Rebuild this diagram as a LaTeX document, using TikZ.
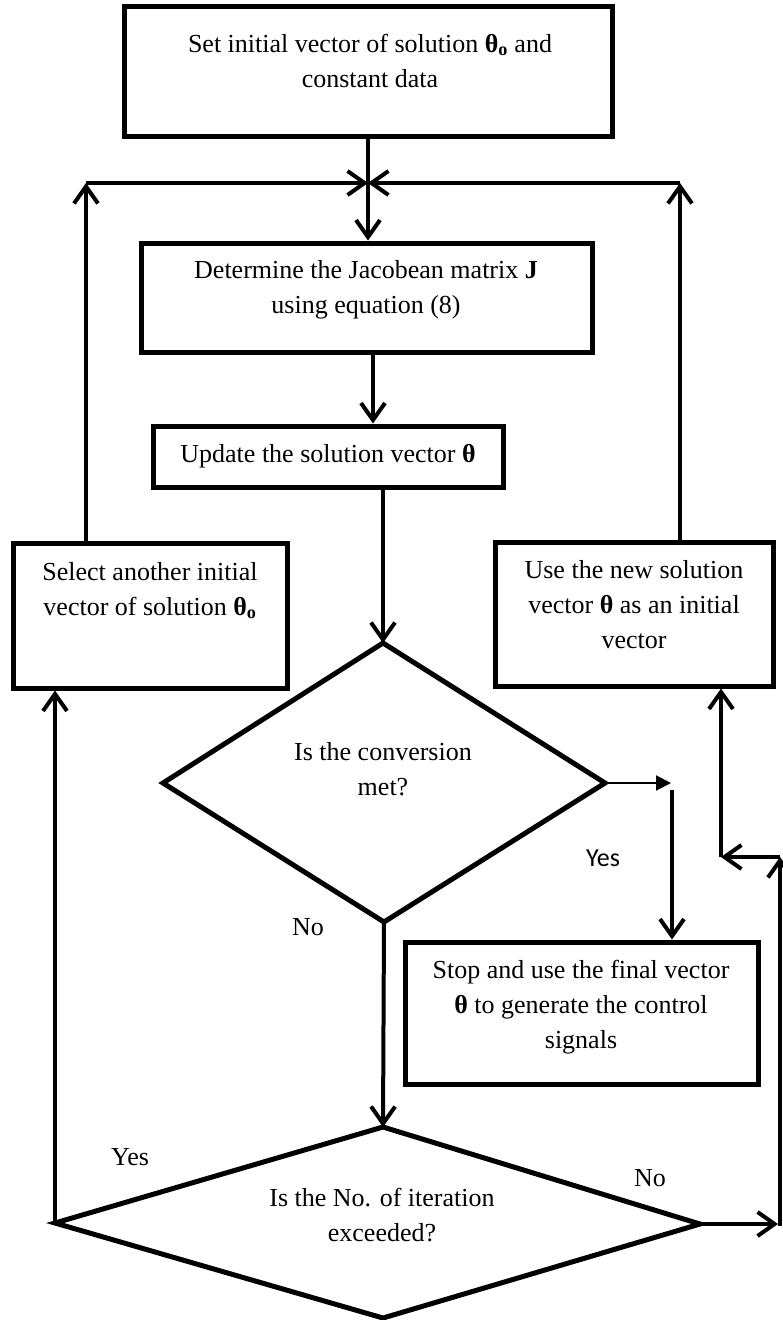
\documentclass[tikz,border=0pt]{standalone}
\usepackage{fontspec}
\setmainfont{Liberation Serif}
\newfontfamily\yesfont{Carlito}
\usetikzlibrary{arrows.meta}
\begin{document}
\begin{tikzpicture}[x=1pt,y=-1pt,
  box/.style={draw, line width=5pt, inner sep=0pt},
  txt/.style={align=center, inner sep=0pt, font=\fontsize{26}{35}\selectfont},
  conn/.style={line width=4pt, -{Straight Barb[length=17pt,width=24pt]}},
  thinarrow/.style={line width=2pt, -{Triangle[length=15pt,width=15pt]}},
  decision/.style={draw, line width=5pt, line join=miter}
]
\useasboundingbox (0,0) rectangle (783,1320);

% boxes
\node[box, minimum width=488pt, minimum height=130pt] (init) at (368,71) {};
\node[txt] (initT) at (370,60.5) {Set initial vector of solution \textbf{θ\textsubscript{o}} and\\constant data};

\node[box, minimum width=451pt, minimum height=109pt] (det) at (366.5,297.5) {};
\node[txt] (detT) at (366,289.5) {Determine the Jacobean matrix \textbf{J}\\using equation (8)};

\node[box, minimum width=350pt, minimum height=61pt] (upd) at (328,456.5) {};
\node[txt] (updT) at (328,456) {Update the solution vector \textbf{θ}};

\node[box, minimum width=274pt, minimum height=145pt] (sel) at (150,615.5) {};
\node[txt] (selT) at (150,590.5) {Select another initial\\vector of solution \textbf{θ\textsubscript{o}}};

\node[box, minimum width=278pt, minimum height=144pt] (use) at (634,614) {};
\node[txt] (useT) at (634,605) {Use the new solution\\vector \textbf{θ} as an initial\\vector};

\node[box, minimum width=353pt, minimum height=142pt] (stop) at (581.5,1013) {};
\node[txt] (stopT) at (581,1007) {Stop and use the final vector\\\textbf{θ} to generate the control\\signals};

% decisions
\coordinate (d1t) at (383,643);
\coordinate (d1l) at (163,783);
\coordinate (d1r) at (605,783);
\coordinate (d1b) at (384,922);
\draw[decision] (d1t) -- (d1r) -- (d1b) -- (d1l) -- cycle;
\node[txt] (d1T) at (383,769.5) {Is the conversion\\met?};

\coordinate (d2t) at (383,1127);
\coordinate (d2l) at (55,1223);
\coordinate (d2r) at (700,1224);
\coordinate (d2b) at (383,1318);
\draw[decision] (d2t) -- (d2r) -- (d2b) -- (d2l) -- cycle;
\node[txt] (d2T) at (382,1215.5) {Is the No. of iteration\\exceeded?};

% junction and loop-backs
\coordinate (J) at (368,183);
\coordinate (LT) at (86,183);
\coordinate (RT) at (680,183);
\coordinate (c1) at (373,0);
\draw[conn] (init.south -| J) -- (det.north -| J);
\draw[conn] (sel.north -| LT) -- (LT);
\draw[conn] (LT) -- (J);
\draw[conn] (use.north -| RT) -- (RT);
\draw[conn] (RT) -- (J);

\draw[conn] (det.south -| c1) -- (upd.north -| c1);
\draw[conn] (upd.south -| d1t) -- (d1t);
\draw[conn] (d1b) -- (d2t);

% yes branch of first decision
\coordinate (ya) at (671,783);
\coordinate (yb) at (672,790);
\draw[thinarrow] (d1r) -- (ya);
\draw[conn] (yb) -- (stop.north -| yb);

% yes branch of second decision
\draw[conn] (d2l) -- (sel.south -| d2l);

% no branch of second decision
\coordinate (rb) at (778,1224);
\coordinate (rb2) at (780,1226);
\coordinate (rt) at (780,857);
\coordinate (rm) at (721,857);
\draw[conn] (d2r) -- (rb);
\draw[conn] (rb2) -- (rt);
\draw[conn] (rt) -- (rm);
\draw[conn] (rm) -- (use.south -| rm);

% labels
\node[txt] (yes1) at (603,858) {\yesfont Yes};
\node[txt] (no1) at (308,927) {No};
\node[txt] (yes2) at (130,1157) {Yes};
\node[txt] (no2) at (650,1178) {No};
\end{tikzpicture}
\end{document}
